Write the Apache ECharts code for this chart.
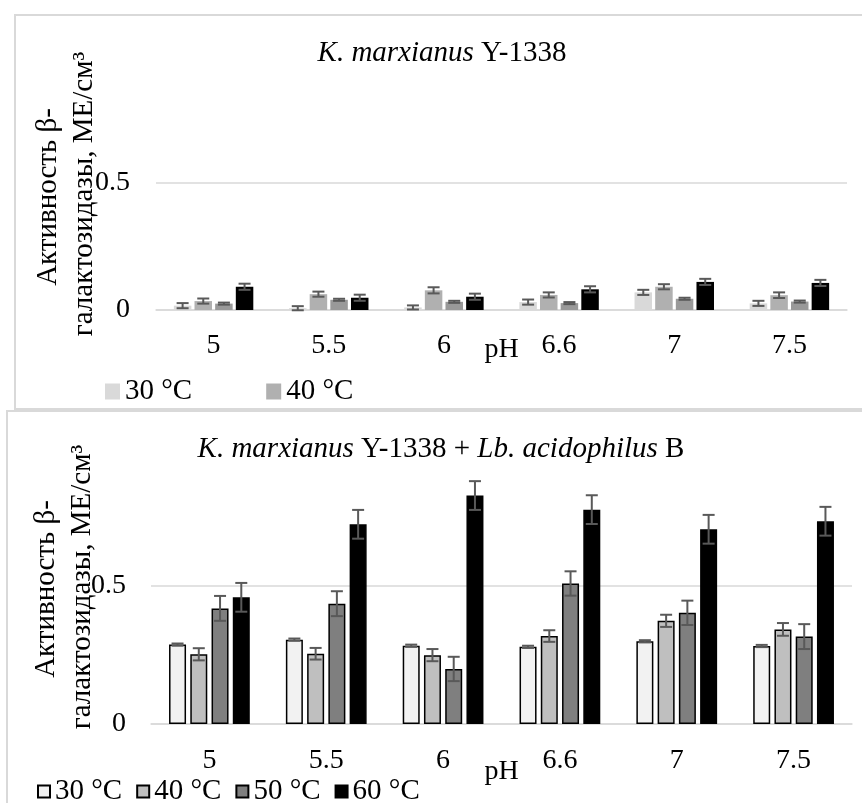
<!DOCTYPE html>
<html><head><meta charset="utf-8">
<script src="https://cdn.jsdelivr.net/npm/echarts@6/dist/echarts.min.js"></script>
<style>
html,body{margin:0;padding:0;background:#fff;}
#top{position:absolute;left:0;top:0;width:862px;height:410px;}
#bottom{position:absolute;left:0;top:400px;width:862px;height:403px;}
</style></head><body>
<div id="top"></div><div id="bottom"></div>
<script>
const categories = ['5', '5.5', '6', '6.6', '7', '7.5'];
const seriesNames = ['30 °C', '40 °C', '50 °C', '60 °C'];
const yTicks = [0, 0.5];

// K. marxianus Y-1338
const top30 = [0.017, 0.007, 0.010, 0.031, 0.069, 0.026];
const top30err = [0.010, 0.008, 0.008, 0.010, 0.010, 0.010];
const top40 = [0.035, 0.062, 0.077, 0.059, 0.091, 0.058];
const top40err = [0.010, 0.010, 0.012, 0.010, 0.010, 0.011];
const top50 = [0.025, 0.040, 0.032, 0.027, 0.044, 0.033];
const top50err = [0.004, 0.004, 0.004, 0.004, 0.004, 0.004];
const top60 = [0.091, 0.048, 0.052, 0.081, 0.110, 0.106];
const top60err = [0.012, 0.012, 0.012, 0.012, 0.012, 0.012];

// K. marxianus Y-1338 + Lb. acidophilus B
const bot30 = [0.287, 0.305, 0.283, 0.279, 0.299, 0.282];
const bot30err = [0.004, 0.004, 0.004, 0.004, 0.004, 0.004];
const bot40 = [0.252, 0.254, 0.249, 0.318, 0.373, 0.342];
const bot40err = [0.022, 0.021, 0.022, 0.021, 0.022, 0.023];
const bot50 = [0.418, 0.435, 0.199, 0.508, 0.402, 0.316];
const bot50err = [0.045, 0.045, 0.044, 0.044, 0.044, 0.045];
const bot60 = [0.458, 0.722, 0.826, 0.775, 0.704, 0.733];
const bot60err = [0.052, 0.052, 0.052, 0.052, 0.052, 0.052];

const FONT = "'Liberation Serif', 'Times New Roman', serif";

function buildOption(cfg) {
  const n = 4;
  const total = n * cfg.bw + (n - 1) * cfg.gap * cfg.bw;
  const series = [];
  cfg.values.forEach((vals, k) => {
    series.push({
      name: seriesNames[k], type: 'bar', data: vals,
      barWidth: cfg.bw, barGap: (cfg.gap * 100) + '%',
      itemStyle: { color: cfg.colors[k], borderColor: cfg.border ? '#000' : null, borderWidth: cfg.border ? 1.5 : 0 },
      z: 2
    });
  });
  cfg.values.forEach((vals, k) => {
    const off = -total / 2 + cfg.bw / 2 + k * cfg.bw * (1 + cfg.gap);
    const errs = cfg.errs[k];
    series.push({
      name: 'err' + k, type: 'custom', z: 4, silent: true,
      encode: { x: 0, y: 1 },
      data: vals.map((v, i) => [i, v, errs[i]]),
      renderItem: function (params, api) {
        const i = api.value(0), v = api.value(1), e = api.value(2);
        const c = api.coord([i, v]);
        const hi = api.coord([i, v + e]);
        const lo = api.coord([i, v - e]);
        const x = c[0] + off;
        const cap = 6;
        const st = { stroke: '#595959', lineWidth: 2 };
        return { type: 'group', children: [
          { type: 'line', shape: { x1: x, y1: hi[1], x2: x, y2: lo[1] }, style: st },
          { type: 'line', shape: { x1: x - cap, y1: hi[1], x2: x + cap, y2: hi[1] }, style: st },
          { type: 'line', shape: { x1: x - cap, y1: lo[1], x2: x + cap, y2: lo[1] }, style: st }
        ] };
      }
    });
  });
  return {
    animation: false,
    backgroundColor: 'transparent',
    textStyle: { fontFamily: FONT },
    grid: { left: cfg.grid.left, top: cfg.grid.top, width: cfg.grid.width, height: cfg.grid.height,
      containLabel: false, outerBoundsMode: 'none' },
    legend: {
      data: cfg.legendData, left: cfg.legend.left, top: cfg.legend.top,
      icon: 'rect', itemWidth: cfg.legend.iw, itemHeight: cfg.legend.ih, itemGap: cfg.legend.gap,
      selectedMode: false,
      textStyle: { fontFamily: FONT, fontSize: 29, color: '#000', padding: [0, 0, 0, 0] }
    },
    xAxis: {
      type: 'category', data: categories,
      name: 'pH', nameLocation: 'middle', nameGap: cfg.nameGap, nameMoveOverlap: false,
      nameTextStyle: { fontFamily: FONT, fontSize: 28, color: '#000' },
      axisLine: { lineStyle: { color: '#d9d9d9', width: 1.5 } },
      axisTick: { show: false },
      axisLabel: { fontFamily: FONT, fontSize: 28, color: '#000', margin: cfg.xMargin }
    },
    yAxis: {
      type: 'value', min: 0, max: 1, interval: 0.5,
      axisLine: { show: false }, axisTick: { show: false },
      axisLabel: { fontFamily: FONT, fontSize: 28, color: '#000', margin: cfg.yMargin, showMaxLabel: false,
        formatter: v => (yTicks.indexOf(v) >= 0 ? String(v) : '') },
      splitLine: { lineStyle: { color: '#d9d9d9', width: 1.5 }, showMaxLine: false }
    },
    graphic: cfg.graphic,
    series: series
  };
}

function yLabel(x1, x2, cy1, cy2) {
  return [
    { type: 'text', x: x1, y: cy1, rotation: Math.PI / 2,
      style: { text: 'Активность β-', fontFamily: FONT, fontSize: 29, fill: '#000', align: 'center', verticalAlign: 'middle' } },
    { type: 'text', x: x2, y: cy2, rotation: Math.PI / 2,
      style: { text: 'галактозидазы, МЕ/см³', fontFamily: FONT, fontSize: 29, fill: '#000', align: 'center', verticalAlign: 'middle' } }
  ];
}

const topChart = echarts.init(document.getElementById('top'), null, { renderer: 'canvas' });
topChart.setOption(buildOption({
  values: [top30, top40, top50, top60],
  errs: [top30err, top40err, top50err, top60err],
  colors: ['#d9d9d9', '#b0b0b0', '#999999', '#000000'],
  border: false, bw: 17.5, gap: 0.18,
  grid: { left: 156, top: 54.6, width: 691, height: 255.4 },
  legendData: ['30 °C', '40 °C'],
  legend: { left: 100, top: 372, iw: 15, ih: 16, gap: 74 },
  nameGap: 26, xMargin: 22, yMargin: 26,
  graphic: [
    { type: 'rect', shape: { x: 15, y: 15, width: 870, height: 394 }, style: { fill: 'none', stroke: '#d9d9d9', lineWidth: 2 }, z: -1 },
    { type: 'text', x: 442, y: 53,
      style: { text: '{i|K. marxianus} Y-1338', fontFamily: FONT, fontSize: 29, fill: '#000', align: 'center', verticalAlign: 'middle',
        rich: { i: { fontFamily: FONT, fontSize: 29, fontStyle: 'italic', fill: '#000' } } } }
  ].concat(yLabel(48, 84, 197, 194))
}));

const botChart = echarts.init(document.getElementById('bottom'), null, { renderer: 'canvas' });
botChart.setOption(buildOption({
  values: [bot30, bot40, bot50, bot60],
  errs: [bot30err, bot40err, bot50err, bot60err],
  colors: ['#f2f2f2', '#bfbfbf', '#7f7f7f', '#000000'],
  border: true, bw: 17, gap: 0.25,
  grid: { left: 151, top: 47.4, width: 701, height: 276.6 },
  legendData: seriesNames,
  legend: { left: 32, top: 372, iw: 12, ih: 12, gap: 14 },
  nameGap: 34, xMargin: 23, yMargin: 25,
  graphic: [
    { type: 'rect', shape: { x: 7, y: 11, width: 880, height: 420 }, style: { fill: 'none', stroke: '#d9d9d9', lineWidth: 2 }, z: -1 },
    { type: 'text', x: 441, y: 49,
      style: { text: '{i|K. marxianus} Y-1338 + {i|Lb. acidophilus} B', fontFamily: FONT, fontSize: 29, fill: '#000', align: 'center', verticalAlign: 'middle',
        rich: { i: { fontFamily: FONT, fontSize: 29, fontStyle: 'italic', fill: '#000' } } } }
  ].concat(yLabel(46, 82, 189, 187))
}));
</script>
</body></html>
